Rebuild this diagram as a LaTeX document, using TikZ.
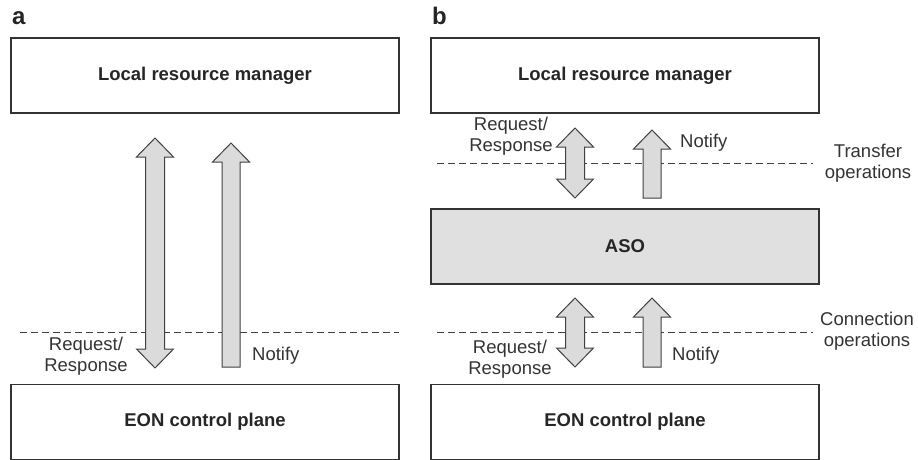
\documentclass[tikz,border=0pt]{standalone}
\usepackage{fontspec}
\setmainfont{Liberation Sans}
\tikzset{
  box/.style={draw=black!80, line width=1.2pt, minimum width=388pt, minimum height=75pt, inner sep=0pt,
    font=\fontsize{18.5}{21}\selectfont\bfseries, text=black!85},
  lbl/.style={font=\fontsize{18.5}{21}\selectfont, text=black!80, align=center, inner sep=0pt},
  panel/.style={font=\fontsize{24}{24}\selectfont\bfseries, text=black!85, anchor=base west, inner sep=0pt},
  sep/.style={dash pattern=on 7pt off 4pt, line width=0.9pt, draw=black!75},
  blk/.style={fill=black!14, draw=black!75, line width=1pt, line join=miter},
}
\newcommand\blkdbl[3]{% x, ytop, ybot
  \filldraw[blk] (#1,#2) -- (#1+18.5,#2+19) -- (#1+9.5,#2+19) -- (#1+9.5,#3-19) -- (#1+18.5,#3-19)
    -- (#1,#3) -- (#1-18.5,#3-19) -- (#1-9.5,#3-19) -- (#1-9.5,#2+19) -- (#1-18.5,#2+19) -- cycle;}
\newcommand\blkup[3]{% x, ytop, ybot
  \filldraw[blk] (#1,#2) -- (#1+18.5,#2+19) -- (#1+9,#2+19) -- (#1+9,#3) -- (#1-9,#3)
    -- (#1-9,#2+19) -- (#1-18.5,#2+19) -- cycle;}
\begin{document}
\begin{tikzpicture}[x=1pt,y=-1pt]
\useasboundingbox (0,0) rectangle (918,460);
% panel labels
\node[panel] (pa) at (12,25) {a};
\node[panel] (pb) at (432,25) {b};
% panel a
\node[box] (lrmA) at (205,75.5) {Local resource manager};
\node[box] (eonA) at (205,422) {EON control plane};
\coordinate (dA1) at (20,332);
\coordinate (dA2) at (399,332);
\draw[sep] (dA1) -- (dA2);
\blkdbl{155}{138}{368}
\blkup{231}{143}{367}
\node[lbl] (rrA) at (86,356.5) {Request/\\Response};
\node[lbl, anchor=west] (nA) at (252,356) {Notify};
% panel b
\node[box] (lrmB) at (625,75.5) {Local resource manager};
\node[box, fill=black!12] (aso) at (625,246.5) {ASO};
\node[box] (eonB) at (625,422) {EON control plane};
\coordinate (dT1) at (437,163);
\coordinate (dT2) at (813,163);
\coordinate (dC1) at (437,332);
\coordinate (dC2) at (813,332);
\draw[sep] (dT1) -- (dT2);
\draw[sep] (dC1) -- (dC2);
\blkdbl{575}{128}{198}
\blkup{652}{130}{198}
\blkdbl{575}{298}{367}
\blkup{652}{298}{367}
\node[lbl] (rrB1) at (511,136) {Request/\\Response};
\node[lbl, anchor=west] (nB1) at (680,143) {Notify};
\node[lbl] (rrB2) at (510,359) {Request/\\Response};
\node[lbl, anchor=west] (nB2) at (672,356) {Notify};
\node[lbl] (tr) at (868,163.5) {Transfer\\operations};
\node[lbl] (co) at (867,331) {Connection\\operations};
\end{tikzpicture}
\end{document}
